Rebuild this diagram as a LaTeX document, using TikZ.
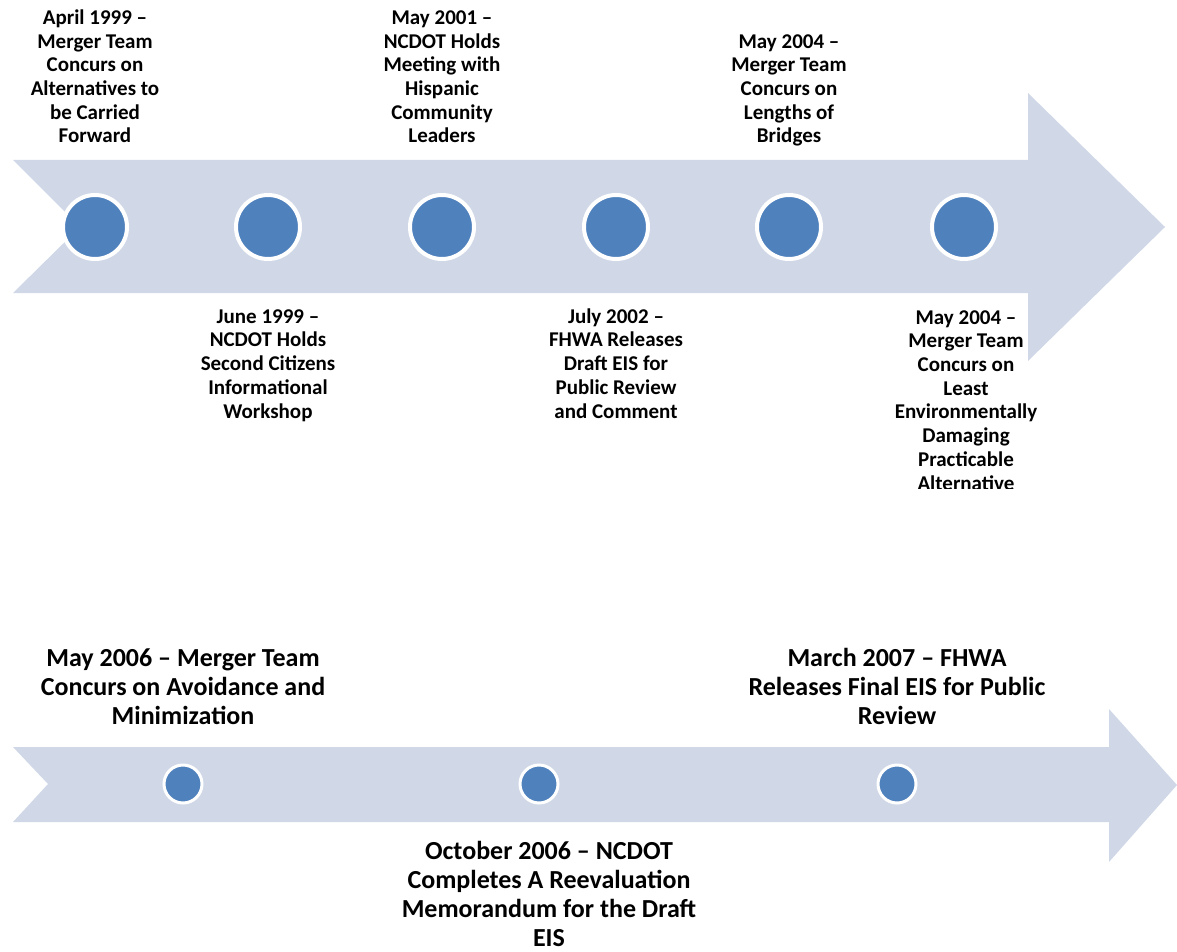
\documentclass[tikz,border=0pt]{standalone}
\usepackage{fontspec}
\setmainfont{Carlito}
\definecolor{arrowfill}{HTML}{D0D8E8}
\definecolor{dotblue}{HTML}{4F81BD}
\begin{document}
\begin{tikzpicture}[x=1pt,y=-1pt,
  bigdot/.style={circle,fill=dotblue,draw=white,line width=4pt,minimum size=64pt,inner sep=0pt},
  smalldot/.style={circle,fill=dotblue,draw=white,line width=3pt,minimum size=38pt,inner sep=0pt},
  toplabel/.style={align=center,anchor=base,inner sep=0pt,font=\fontsize{21}{23.7}\selectfont\bfseries},
  botlabel/.style={align=center,anchor=base,inner sep=0pt,font=\fontsize{26}{28.7}\selectfont\bfseries}]
\useasboundingbox (0,0) rectangle (1177,952);
% arrows
\fill[arrowfill] (13,160) -- (1028,160) -- (1028,93) -- (1165,227) -- (1028,361) -- (1028,293) -- (13,293) -- (80,227) -- cycle;
\fill[arrowfill] (13,747) -- (1109,747) -- (1109,709) -- (1177,785) -- (1109,862) -- (1109,822) -- (13,822) -- (48,784) -- cycle;
% top dots
\node[bigdot] (c1) at (95,227) {};
\node[bigdot] (c2) at (268,227) {};
\node[bigdot] (c3) at (442,227) {};
\node[bigdot] (c4) at (616,227) {};
\node[bigdot] (c5) at (789,227) {};
\node[bigdot] (c6) at (964,227) {};
% bottom dots
\node[smalldot] (d1) at (183,784) {};
\node[smalldot] (d2) at (539,784) {};
\node[smalldot] (d3) at (897,784) {};
% top labels (anchor=base is the last line's baseline)
\node[toplabel] (l1) at (95,143) {April 1999 –\\Merger Team\\Concurs on\\Alternatives to\\be Carried\\Forward};
\node[toplabel] (l3) at (442,143) {May 2001 –\\NCDOT Holds\\Meeting with\\Hispanic\\Community\\Leaders};
\node[toplabel] (l5) at (789,143) {May 2004 –\\Merger Team\\Concurs on\\Lengths of\\Bridges};
\node[toplabel] (l2) at (268,418) {June 1999 –\\NCDOT Holds\\Second Citizens\\Informational\\Workshop};
\node[toplabel] (l4) at (616,418) {July 2002 –\\FHWA Releases\\Draft EIS for\\Public Review\\and Comment};
\begin{scope}
\clip (880,300) rectangle (1060,488);
\node[toplabel] (l6) at (966,490) {May 2004 –\\Merger Team\\Concurs on\\Least\\Environmentally\\Damaging\\Practicable\\Alternative};
\end{scope}
% bottom labels
\node[botlabel] (m1) at (183,724) {May 2006 – Merger Team\\Concurs on Avoidance and\\Minimization};
\node[botlabel] (m3) at (897,724) {March 2007 – FHWA\\Releases Final EIS for Public\\Review};
\node[botlabel] (m2) at (549,946) {October 2006 – NCDOT\\Completes A Reevaluation\\Memorandum for the Draft\\EIS};
\end{tikzpicture}
\end{document}
